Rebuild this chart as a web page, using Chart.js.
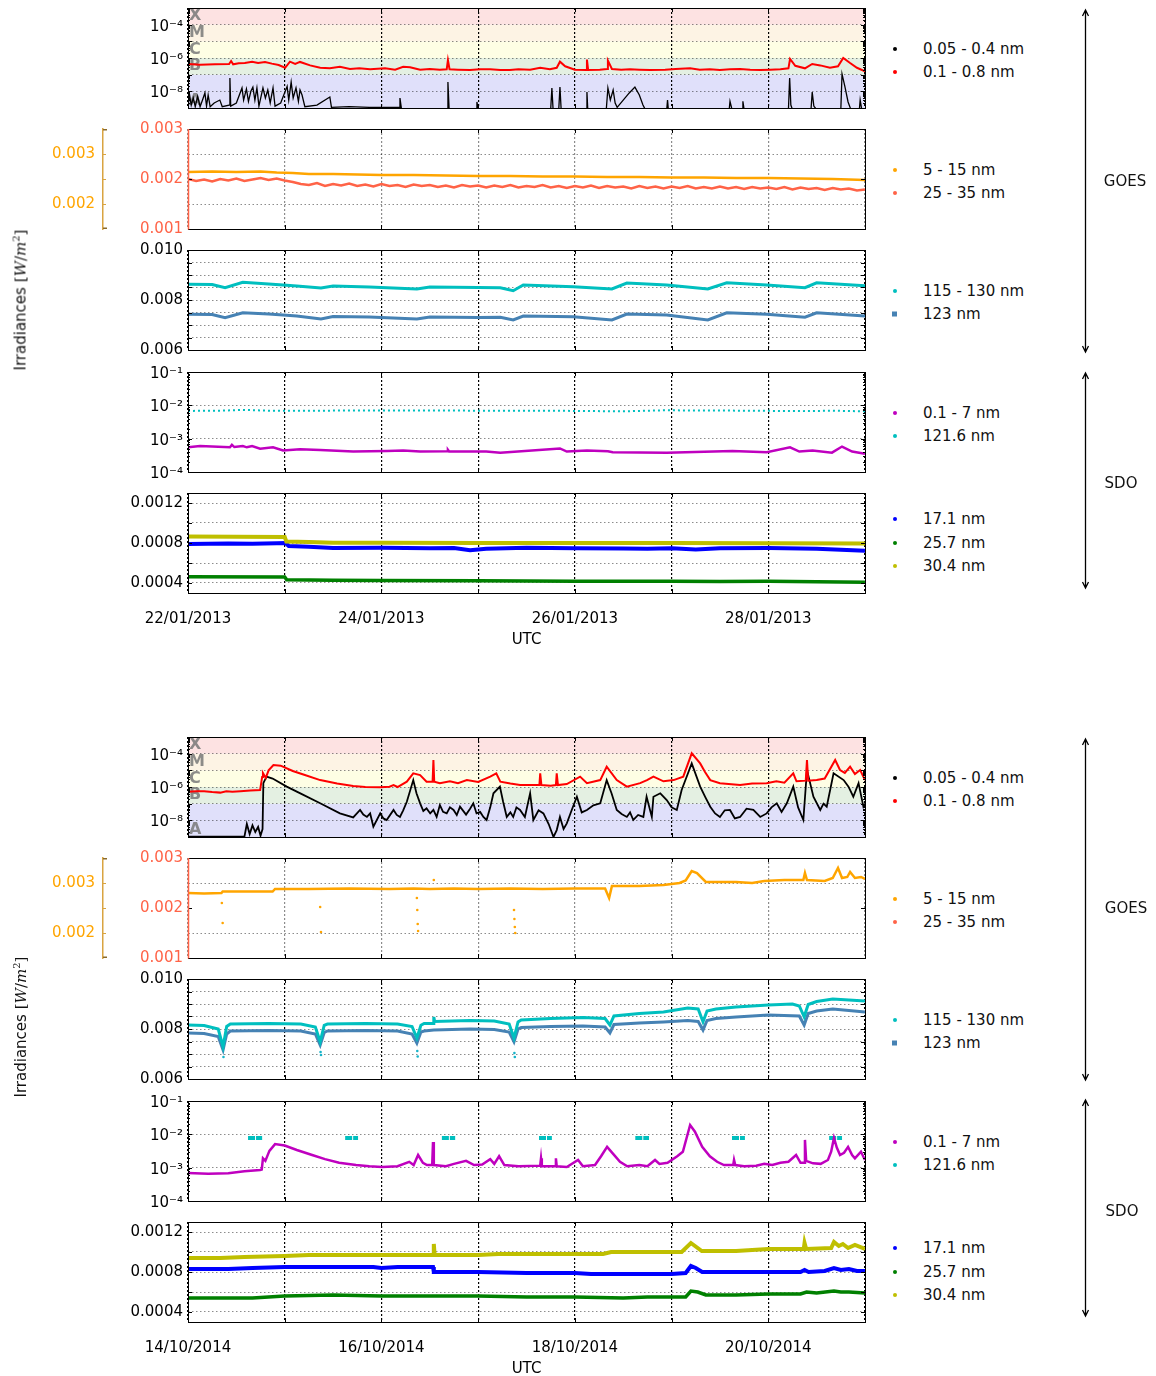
<!DOCTYPE html>
<html>
<head>
<meta charset="utf-8">
<script src="https://cdn.jsdelivr.net/npm/chart.js@4.4.1/dist/chart.umd.min.js"></script>
<style>
  body { margin: 0; background: #fff; font-family: 'DejaVu Sans', sans-serif; }
  #page { position: relative; width: 1156px; height: 1376px; overflow: hidden; }
  #page canvas { position: absolute; left: 0; }
  .leg { position: absolute; left: 923px; font-size: 15px; color: #111; white-space: nowrap; transform: translateY(-50%); }
  .mark { position: absolute; left: 893px; width: 4px; height: 4px; border-radius: 50%; transform: translateY(-50%); }
  .mark.sq { border-radius: 0; width: 5px; height: 5px; left: 892px; }
  .side { position: absolute; font-size: 15px; color: #111; transform: translate(-50%, -50%); }
  .ytitle { position: absolute; left: 20px; font-size: 15px; color: #111; white-space: nowrap; transform: translate(-50%, -50%) rotate(-90deg); }
  .ytitle .m { font-family: 'DejaVu Serif', serif; }
  .ytitle sup { font-size: 10px; }
</style>
</head>
<body>
<div id="page"></div>
<script>
Chart.defaults.font.family = "'DejaVu Sans', sans-serif";

// ---- x axis: hours since the first day, one gridline per day
const dayTicks = [0, 24, 48, 72, 96, 120, 144, 168];
const dates2013 = ['22/01/2013', '', '24/01/2013', '', '26/01/2013', '', '28/01/2013', ''];
const dates2014 = ['14/10/2014', '', '16/10/2014', '', '18/10/2014', '', '20/10/2014', ''];

// ---- y ticks
const xrsTicks = [1e-9, 1e-8, 1e-7, 1e-6, 1e-5, 1e-4, 1e-3];
const xrsLabelled = [1e-8, 1e-6, 1e-4];
const euvRedTicks = [0.001, 0.002, 0.003];
const euvOrangeTicks = [0.002, 0.003];
const lyaTicks = [0.006, 0.0065, 0.007, 0.0075, 0.008, 0.0085, 0.009, 0.0095, 0.010];
const lyaLabelled = [0.006, 0.008, 0.010];
const espTicks = [1e-4, 1e-3, 1e-2, 1e-1];
const aiaTicks = [0.0004, 0.0006, 0.0008, 0.0010, 0.0012];
const aiaLabelled = [0.0004, 0.0008, 0.0012];

// ---- flare classes
const flareLetters = ['A', 'B', 'C', 'M', 'X'];
const flareBands = [[1e-9, 1e-7], [1e-7, 1e-6], [1e-6, 1e-5], [1e-5, 1e-4], [1e-4, 1e-3]];
const flareLetterAt = [10 ** -8.55, 10 ** -6.5, 10 ** -5.5, 10 ** -4.5, 10 ** -3.5];
const flareColors = ['#e0e0fa', '#e4f0e2', '#fefee4', '#fdf3e4', '#fde2e2'];

// ---- legend names
const xrsNames = ['0.05 - 0.4 nm', '0.1 - 0.8 nm'];
const euvNames = ['5 - 15 nm', '25 - 35 nm'];
const lyaNames = ['115 - 130 nm', '123 nm'];
const espNames = ['0.1 - 7 nm', '121.6 nm'];
const aiaNames = ['17.1 nm', '25.7 nm', '30.4 nm'];

// ================= 22/01/2013 - 29/01/2013 =================  [hour, value]
const xrsLong2013 = [[0,4.4e-7],[3,4.0e-7],[6.7,4.2e-7],[10.2,4.4e-7],[10.7,6.6e-7],[11.2,4.2e-7],[12.6,4.8e-7],[14.1,5.0e-7],[15.9,6.0e-7],[17.4,5.0e-7],[19.1,5.8e-7],[20.8,4.6e-7],[22.5,3.8e-7],[24.1,2.6e-7],[25.3,6.0e-7],[26.6,4.4e-7],[27.8,5.8e-7],[30.3,3.6e-7],[32.8,2.6e-7],[35.2,2.4e-7],[37.7,3.0e-7],[40.2,2.2e-7],[42.5,2.4e-7],[45.2,2.1e-7],[48.9,2.4e-7],[51.4,2.0e-7],[53.4,3.0e-7],[55.1,2.8e-7],[57.6,2.0e-7],[60,2.2e-7],[62.5,2.0e-7],[64.2,2.1e-7],[64.5,7.5e-7],[64.9,2.1e-7],[67,2.0e-7],[70,1.9e-7],[72.5,2.1e-7],[75,2.1e-7],[77.5,1.9e-7],[79.9,1.9e-7],[82,2.1e-7],[84.9,2.0e-7],[87.4,2.6e-7],[89.8,2.1e-7],[91.5,2.6e-7],[92.3,6.0e-7],[93.6,3.2e-7],[96,2.0e-7],[98.8,1.9e-7],[99,8.0e-7],[99.3,1.9e-7],[102.2,2.0e-7],[104,2.2e-7],[104.2,7.0e-7],[105.2,2.2e-7],[107.5,2.0e-7],[109.7,2.1e-7],[112,2.0e-7],[114.7,1.9e-7],[118.4,2.0e-7],[121,2.2e-7],[124.6,2.4e-7],[127,2.0e-7],[129.5,2.1e-7],[132,1.9e-7],[134.5,2.1e-7],[137,2.2e-7],[139.5,2.0e-7],[142,1.9e-7],[144.5,2.0e-7],[147,2.1e-7],[149,2.4e-7],[149.4,8.7e-7],[150.7,3.4e-7],[153.1,2.4e-7],[154.9,4.4e-7],[156.9,3.6e-7],[159.3,2.6e-7],[161.3,3.2e-7],[162.6,1.0e-6],[164.3,5.0e-7],[166,2.6e-7],[168,1.6e-7]];
const xrsShort2013 = [[0,1.2e-9],[0.4,6e-9],[0.8,1.5e-9],[1.3,4e-9],[1.8,1.2e-9],[2.4,5e-9],[3,1.2e-9],[3.6,3e-9],[4.2,8e-9],[4.6,1.3e-9],[5,6e-9],[5.5,1.2e-9],[6.5,2e-9],[7.9,3e-9],[8.5,1.2e-9],[10.2,1.5e-9],[10.4,6.3e-8],[10.6,1.3e-9],[12,2e-9],[13.4,1.6e-8],[13.8,3e-9],[14.5,1.4e-8],[15,2.5e-9],[15.6,1e-8],[16.1,1.8e-8],[16.6,3e-9],[17.1,1.6e-8],[17.6,1.3e-9],[18.6,1.6e-8],[19.2,4e-9],[19.8,1.2e-8],[20.4,2e-9],[21.1,1.6e-8],[21.6,1.3e-9],[23,2e-9],[24.6,2e-8],[25,3e-9],[25.6,3.6e-8],[26.1,4e-9],[26.8,1.6e-8],[27.4,2.5e-9],[27.8,1.2e-8],[28.3,6e-9],[29,1.2e-9],[32,1.5e-9],[35.2,4.6e-9],[35.6,1.1e-9],[40,1.2e-9],[45,1.1e-9],[52.4,1.1e-9],[52.6,4e-9],[53,8e-10],[64.3,8e-10],[64.5,3.6e-8],[64.8,8e-10],[71.5,8e-10],[71.7,2.3e-9],[72,8e-10],[90,8e-10],[90.3,1.6e-8],[90.6,8e-10],[92,8e-10],[92.3,1.8e-8],[92.6,8e-10],[98.8,8e-10],[99,9e-9],[99.2,8e-10],[103.8,8e-10],[104.2,1.6e-8],[104.8,3e-9],[105.5,1.2e-8],[106,2e-9],[106.5,1.1e-9],[108,3e-9],[109.5,8e-9],[110.9,1.8e-8],[112,6e-9],[112.9,1.5e-9],[113.5,8e-10],[118.8,8e-10],[119,3e-9],[119.2,8e-10],[134.3,8e-10],[134.5,2.5e-9],[135,8e-10],[137.5,8e-10],[137.7,2.5e-9],[138,8e-10],[149,8e-10],[149.3,6.3e-8],[149.6,1.5e-9],[150,8e-10],[154.6,8e-10],[154.9,9e-9],[155.3,1.3e-9],[156,8e-10],[162,8e-10],[162.3,1.1e-7],[163,2e-8],[163.8,2.3e-9],[164.5,8e-10],[166.6,8e-10],[166.8,3e-9],[167.2,8e-10],[168,8e-10]];
const euv515_2013 = [[0,0.00264],[6,0.00265],[12,0.00264],[18,0.00265],[22,0.00263],[26,0.00262],[30,0.0026],[36,0.0026],[42,0.00259],[48,0.00258],[56,0.00258],[64,0.00257],[72,0.00256],[80,0.00256],[88,0.00255],[96,0.00255],[104,0.00254],[112,0.00254],[120,0.00253],[128,0.00253],[136,0.00252],[144,0.00252],[152,0.00251],[160,0.0025],[168,0.00248]];
// 25-35 nm, one value every 2 hours
const euv2535_2013 = [0.00200,0.00196,0.00199,0.00195,0.00200,0.00197,0.00201,0.00196,0.00199,0.00202,0.00198,0.00201,0.00197,0.00194,0.00190,0.00188,0.00192,0.00186,0.00190,0.00187,0.00191,0.00186,0.00189,0.00185,0.00190,0.00186,0.00188,0.00184,0.00189,0.00186,0.00188,0.00184,0.00187,0.00183,0.00188,0.00185,0.00187,0.00183,0.00187,0.00184,0.00188,0.00183,0.00186,0.00184,0.00188,0.00183,0.00186,0.00182,0.00186,0.00183,0.00187,0.00182,0.00186,0.00183,0.00185,0.00181,0.00186,0.00182,0.00185,0.00181,0.00185,0.00182,0.00186,0.00181,0.00184,0.00181,0.00185,0.00181,0.00184,0.00180,0.00184,0.00181,0.00183,0.00180,0.00184,0.00179,0.00183,0.00180,0.00182,0.00178,0.00182,0.00179,0.00181,0.00177,0.00179];
const lya2013 = [[0,0.00863],[6,0.00862],[9.2,0.00849],[13.6,0.00871],[20,0.00864],[23.6,0.0086],[27,0.00856],[33,0.00848],[36,0.00856],[45,0.00852],[56.8,0.00844],[60,0.00852],[72,0.0085],[77.5,0.00849],[80.7,0.00837],[83.2,0.0086],[95.6,0.00853],[105.2,0.00844],[108.9,0.00868],[118.8,0.0086],[129,0.00844],[133.7,0.00869],[143.6,0.0086],[153.1,0.00849],[156,0.00869],[168,0.00857]];
const lya123_2013 = [[0,0.00743],[6,0.00742],[9.2,0.00729],[13.6,0.00749],[20,0.00744],[23.6,0.0074],[27,0.00736],[33,0.00724],[36,0.00734],[45,0.00732],[56.8,0.00724],[60,0.00732],[72,0.0073],[77.5,0.00731],[80.7,0.0072],[83.2,0.00736],[95.6,0.00733],[105.2,0.0072],[108.9,0.00744],[118.8,0.0074],[129,0.0072],[133.7,0.00749],[143.6,0.00743],[153.1,0.00731],[156,0.00749],[168,0.00736]];
const esp2013 = [[0,5.5e-4],[3,6.0e-4],[10.4,5.5e-4],[10.9,6.5e-4],[11.5,5.6e-4],[13.6,6.0e-4],[14.6,5.5e-4],[15.9,6.0e-4],[17.9,5.0e-4],[21.1,5.5e-4],[23.6,4.4e-4],[27.8,4.8e-4],[32.8,4.6e-4],[41,4.1e-4],[49.4,4.3e-4],[53.4,4.4e-4],[57.6,4.1e-4],[64.3,4.2e-4],[64.5,4.6e-4],[64.8,4.1e-4],[74,4.1e-4],[77.5,3.8e-4],[92.3,5.1e-4],[94,4.1e-4],[99,4.4e-4],[104.2,4.2e-4],[105.4,3.9e-4],[118.8,3.8e-4],[135.1,4.3e-4],[143.6,3.9e-4],[149.4,5.5e-4],[151.7,4.1e-4],[155,4.4e-4],[159.8,3.8e-4],[162.3,5.8e-4],[164.8,4.1e-4],[168,3.5e-4]];
const lyaSdo2013 = [[0,6.8e-3],[8,6.9e-3],[13.6,7.3e-3],[20,6.9e-3],[30,6.9e-3],[45,7.0e-3],[60,7.0e-3],[75,6.9e-3],[90,6.9e-3],[108,6.6e-3],[118,7.1e-3],[128,7.0e-3],[140,6.9e-3],[152.5,6.7e-3],[160,6.9e-3],[168,6.6e-3]];
const aia171_2013 = [[0,0.00079],[10,0.000795],[16,0.000792],[22,0.000797],[24.2,0.0008],[25,0.00077],[30,0.000762],[36,0.00075],[48,0.000752],[60,0.000748],[66,0.00075],[70,0.000728],[74,0.000742],[84,0.000752],[96,0.000748],[108,0.000745],[114,0.000742],[120,0.000748],[126,0.000735],[132,0.000748],[144,0.00075],[156,0.000742],[168,0.000722]];
const aia257_2013 = [[0,0.000463],[24,0.00046],[24.5,0.000432],[36,0.000428],[48,0.000425],[72,0.000422],[96,0.000418],[120,0.000418],[132,0.000415],[144,0.000417],[168,0.000408]];
const aia304_2013 = [[0,0.000865],[12,0.000862],[24,0.00086],[24.4,0.000815],[30,0.00081],[36,0.000803],[48,0.000802],[72,0.0008],[96,0.0008],[120,0.000801],[144,0.000798],[168,0.000795]];

// ================= 14/10/2014 - 21/10/2014 =================
const xrsLong2014 = [[0,5.2e-7],[2,5.6e-7],[4,5.6e-7],[6,5.0e-7],[8,4.6e-7],[9.5,5.5e-7],[11,5.2e-7],[13,5.6e-7],[15.5,6.2e-7],[17.9,6.6e-7],[18.4,4e-6],[18.6,6.9e-6],[19.3,3.5e-6],[20,1.0e-5],[21.2,2.1e-5],[23,1.9e-5],[26,9.1e-6],[29,5.2e-6],[32.8,2.6e-6],[37,1.6e-6],[41,1.15e-6],[44,1.0e-6],[47.7,9.5e-7],[50,1.05e-6],[51,1.3e-6],[52,1.0e-6],[54.3,2.1e-6],[55.9,6.6e-6],[57.6,5.2e-6],[59.2,2.1e-6],[60.7,2.1e-6],[60.9,4.2e-5],[61.1,2.1e-6],[62.5,1.7e-6],[65,2.2e-6],[67,1.7e-6],[69.2,2.6e-6],[72,2.0e-6],[75,4.2e-6],[76.5,6.6e-6],[77.5,2.1e-6],[80,1.6e-6],[82.4,1.3e-6],[84.9,1.3e-6],[87.2,1.3e-6],[87.4,6.6e-6],[87.7,1.3e-6],[90,1.2e-6],[91.3,1.3e-6],[91.5,6.6e-6],[91.8,1.3e-6],[94,1.5e-6],[97.3,4.2e-6],[99,1.7e-6],[102.3,2.6e-6],[103.9,1.65e-5],[106.4,2.6e-6],[108.9,1.05e-6],[112.2,1.7e-6],[113.9,2.6e-6],[115.5,4.2e-6],[118,2.2e-6],[120.5,2.6e-6],[122.9,4.2e-6],[125,1.05e-4],[127.1,2.6e-5],[128.3,8e-6],[129.6,2.6e-6],[132,1.7e-6],[137,1.3e-6],[140,1.6e-6],[143.6,1.7e-6],[146,2.2e-6],[148,1.8e-6],[150.2,6.6e-6],[151,2.2e-6],[153.3,2.4e-6],[153.6,4.2e-5],[153.9,2.4e-6],[156,2.6e-6],[158,3.2e-6],[160.6,4.2e-5],[161.8,1.05e-5],[163,7e-6],[164.3,1.65e-5],[165.5,6e-6],[166.8,1.05e-5],[168,2.6e-6]];
const xrsShort2014 = [[0,1.05e-9],[14,1.05e-9],[14.6,6e-9],[15.3,1.5e-9],[16,5e-9],[16.7,2e-9],[17.4,4e-9],[18,1.2e-9],[18.5,3e-9],[18.7,1.7e-6],[19.5,4.2e-6],[21,3.2e-6],[24.5,1.05e-6],[28,4e-7],[32.8,1.05e-7],[37.7,2.6e-8],[41,1.5e-8],[42.7,4.2e-8],[43.5,2.2e-8],[44.4,1.6e-8],[45.2,2.6e-8],[46,4.2e-9],[47.7,2.6e-8],[48.5,1.3e-8],[49.3,1.05e-8],[51,4.2e-8],[51.8,2.1e-8],[52.6,1.6e-8],[53.4,4e-8],[54.3,1.3e-7],[55.9,2.6e-6],[56.7,4.2e-7],[57.6,1.05e-7],[58.4,3.6e-8],[59.2,5.2e-8],[60.1,2.6e-8],[60.9,4.2e-8],[61.7,1.6e-8],[62.5,8.3e-8],[63.3,3.2e-8],[64.2,2.6e-8],[65,6e-8],[65.9,4.2e-8],[66.7,2.1e-8],[67.5,6.6e-8],[69,2.2e-8],[70,5e-8],[70.8,1.05e-7],[71.6,2.6e-8],[72.5,3.2e-8],[73.3,1.6e-8],[74.1,1.05e-8],[75,6e-8],[75.8,4.2e-7],[77.4,1.05e-6],[78.2,1.3e-7],[79.1,1.6e-8],[80,3e-8],[80.7,1.6e-8],[81.5,6e-8],[82.4,4.2e-8],[83.6,1.6e-8],[84.9,4.2e-7],[85.7,1.05e-8],[87,4e-8],[88.2,2.6e-8],[89.5,6e-9],[90.7,1e-9],[91.5,2.6e-9],[92.3,1.6e-8],[93.2,3e-9],[94,6.6e-9],[95.2,4e-8],[96.5,2.6e-7],[97.7,3e-8],[99,4.2e-8],[100.6,8e-8],[102.3,1.05e-7],[103.9,2.6e-6],[105.1,4.2e-7],[106.4,4.2e-8],[107.6,2.4e-8],[108.9,1.6e-8],[109.7,3e-8],[110.5,1.05e-8],[111.7,2.1e-8],[113,1.6e-8],[113.8,2.6e-7],[115.1,1.6e-8],[115.5,2.6e-7],[117.2,4.2e-7],[118.8,1.65e-7],[120,6e-8],[121.3,4.2e-8],[122.5,6.6e-7],[125,2.6e-5],[127.1,1.05e-6],[128.4,2.4e-7],[129.6,6.6e-8],[130.8,2.6e-8],[132,1.6e-8],[133.2,4e-8],[134.5,4.2e-8],[135.7,1.3e-8],[137,1.6e-8],[138.6,5e-8],[140.3,4.2e-8],[142,1.6e-8],[143.6,2.6e-8],[144.8,6e-8],[146.1,1.05e-7],[147.3,3.2e-8],[148.6,1.05e-7],[150.2,1.05e-6],[151.4,6e-8],[152.7,1.05e-8],[153.6,1.05e-5],[155.2,2.6e-7],[156.9,4.2e-8],[157.7,1e-7],[158.5,6.6e-8],[160.2,6.6e-6],[162.7,2.6e-6],[163.9,1.05e-6],[165.1,2.6e-7],[166.4,1.7e-6],[167.6,6.6e-8],[168,1e-7]];
const euv515_2014 = [[0,0.0028],[4,0.00279],[8.3,0.0028],[8.6,0.00283],[14,0.00283],[21,0.00283],[21.6,0.00288],[30,0.00288],[40,0.00289],[50,0.00288],[56,0.00289],[60,0.00288],[66,0.00289],[72,0.00288],[80,0.00289],[88,0.00288],[96,0.00289],[103.5,0.00289],[104.5,0.0027],[105.2,0.00294],[112,0.00294],[118,0.00296],[122,0.003],[123.5,0.00305],[125,0.00324],[126.3,0.0032],[128.5,0.00302],[136,0.00302],[140,0.003],[143,0.00304],[148,0.00306],[152.7,0.00306],[153.1,0.0032],[153.6,0.00306],[158,0.00304],[160,0.0031],[161.3,0.0033],[162.3,0.0031],[163.6,0.00312],[164.3,0.00322],[165.5,0.0031],[167,0.00312],[168,0.00308]];
const euv515Out2014 = [[8.4,0.0026],[8.6,0.0022],[32.8,0.00252],[33,0.00202],[56.8,0.0027],[56.9,0.00246],[57,0.00218],[57.1,0.00204],[61,0.00306],[80.9,0.00246],[81,0.00228],[81.1,0.00212],[81.2,0.002]];
const euv2535_2014 = [];
const lya2014 = [[0,0.00816],[4,0.00814],[7.5,0.008],[8.7,0.00729],[9.6,0.0081],[10.5,0.0082],[20,0.00822],[28,0.0082],[31.6,0.00808],[32.8,0.00749],[33.8,0.00815],[34.6,0.0082],[44,0.00822],[52,0.0082],[55.6,0.0081],[56.8,0.00764],[57.8,0.00815],[58.6,0.00822],[60.8,0.00822],[61,0.00848],[61.2,0.0083],[70,0.00834],[76,0.00832],[79.7,0.0082],[80.9,0.00764],[81.9,0.00828],[82.7,0.00836],[90,0.00842],[98,0.00846],[103.5,0.00842],[104.7,0.00816],[105.7,0.00852],[112,0.00862],[118,0.00868],[124,0.00884],[126.6,0.0088],[127.8,0.00829],[128.8,0.00872],[131,0.0088],[136,0.00888],[144,0.00896],[150,0.009],[151.7,0.00892],[152.9,0.00849],[153.9,0.00898],[156,0.0091],[160,0.0092],[164,0.00916],[168,0.00912]];
const lya123_2014 = [[0,0.00784],[4,0.00782],[7.5,0.0077],[8.7,0.00716],[9.6,0.0078],[10.5,0.00792],[20,0.00794],[28,0.00792],[31.6,0.0078],[32.8,0.00736],[33.8,0.00786],[34.6,0.00792],[44,0.00794],[52,0.00792],[55.6,0.0078],[56.8,0.00744],[57.8,0.00788],[58.6,0.00792],[61,0.00796],[70,0.008],[76,0.00798],[79.7,0.00788],[80.9,0.00749],[81.9,0.008],[82.7,0.00806],[90,0.0081],[98,0.00812],[103.5,0.00808],[104.7,0.00784],[105.7,0.00818],[112,0.00824],[118,0.00828],[124,0.00834],[126.6,0.0083],[127.8,0.00796],[128.8,0.00834],[131,0.00842],[136,0.00848],[144,0.00856],[151.7,0.00852],[152.9,0.00816],[153.9,0.00862],[156,0.00872],[160,0.0088],[164,0.00874],[168,0.00868]];
const lyaOut2014 = [[8.8,0.00688],[32.9,0.00708],[33,0.00696],[56.9,0.00712],[57,0.0069],[81,0.00704],[81.1,0.00688]];
const esp2014 = [[0,6.9e-4],[5,6.6e-4],[10,6.8e-4],[14,7.8e-4],[17.9,8.5e-4],[18.3,8.8e-4],[18.6,1.9e-3],[19.2,1.6e-3],[20.2,3.2e-3],[21.6,5.1e-3],[24,4.6e-3],[27,3.4e-3],[30.8,2.4e-3],[34,1.8e-3],[37.5,1.4e-3],[41.7,1.2e-3],[45,1.1e-3],[48.2,1.05e-3],[52,1.1e-3],[54.9,1.5e-3],[56,1.2e-3],[57.1,2.4e-3],[58.3,1.4e-3],[59.3,1.2e-3],[60.6,1.2e-3],[60.8,5.9e-3],[61,1.2e-3],[64,1.1e-3],[66,1.3e-3],[69,1.6e-3],[71,1.2e-3],[73,1.25e-3],[75,1.8e-3],[76,1.3e-3],[77.2,2.2e-3],[78.5,1.2e-3],[82,1.1e-3],[87.4,1.15e-3],[87.6,1.9e-3],[87.8,1.1e-3],[91.1,1.1e-3],[91.3,1.9e-3],[91.5,1.1e-3],[94,1.05e-3],[96.8,1.7e-3],[98,1.1e-3],[101,1.2e-3],[102.5,2.2e-3],[104,4.2e-3],[105.5,2.6e-3],[107.2,1.5e-3],[109,1.1e-3],[112,1.2e-3],[114,1.1e-3],[115.9,1.7e-3],[117,1.3e-3],[119,1.4e-3],[121.4,2.2e-3],[122.8,3e-3],[124.6,1.9e-2],[125.8,1.2e-2],[127.6,4.2e-3],[129.5,2.2e-3],[131.3,1.5e-3],[133,1.2e-3],[135.3,1.2e-3],[135.5,1.7e-3],[135.8,1.2e-3],[138,1.1e-3],[141,1.15e-3],[143,1.3e-3],[145,1.2e-3],[147,1.4e-3],[149,1.5e-3],[150.9,2.4e-3],[152,1.4e-3],[152.9,1.4e-3],[153.1,6.8e-3],[153.4,1.6e-3],[155.1,1.35e-3],[157,1.3e-3],[158.8,1.7e-3],[159.6,3e-3],[160.3,7.8e-3],[161,4e-3],[161.8,2.4e-3],[162.8,2.8e-3],[163.8,4.2e-3],[164.8,2.4e-3],[165.5,1.9e-3],[167,3e-3],[168,1.7e-3]];
const lyaSdo2014 = [[14.9,7.8e-3],[18.4,7.8e-3],[18.5,null],[39,7.8e-3],[42.2,7.8e-3],[42.3,null],[63,7.8e-3],[66.3,7.8e-3],[66.4,null],[87.1,7.8e-3],[90.3,7.8e-3],[90.4,null],[111,7.8e-3],[114.4,7.8e-3],[114.5,null],[135,7.8e-3],[138.2,7.8e-3],[138.3,null],[159.1,7.8e-3],[162.3,7.8e-3]];
const aia171_2014 = [[0,0.00083],[10,0.00083],[16,0.00084],[24,0.00085],[36,0.00085],[46,0.00085],[48,0.00084],[52,0.00085],[60.8,0.00085],[61,0.0008],[72,0.0008],[84,0.00079],[96,0.00079],[100,0.00078],[112,0.00078],[120,0.00078],[123.5,0.00079],[124.8,0.00086],[126,0.00084],[127.6,0.0008],[136,0.0008],[148,0.0008],[152,0.0008],[153,0.00082],[154,0.0008],[158,0.00081],[160.3,0.00084],[162,0.00082],[164,0.00083],[166,0.00081],[168,0.00081]];
const aia257_2014 = [[0,0.00054],[16,0.00054],[24,0.00056],[36,0.00057],[48,0.00056],[60,0.00056],[72,0.00056],[84,0.00055],[96,0.00055],[108,0.00054],[114,0.00055],[120,0.00055],[123.5,0.00055],[124.8,0.00061],[126.5,0.0006],[128.5,0.00057],[136,0.00057],[144,0.00058],[152,0.00058],[153.5,0.0006],[156,0.00059],[160.3,0.00061],[162,0.0006],[164,0.0006],[168,0.00059]];
const aia304_2014 = [[0,0.00094],[8,0.00094],[14,0.00095],[24,0.00096],[30,0.00097],[48,0.00097],[60.8,0.00097],[61,0.00108],[61.2,0.00097],[72,0.00097],[77,0.00098],[96,0.00098],[103,0.00098],[105,0.001],[118,0.001],[122.5,0.001],[124.8,0.00109],[127.5,0.00101],[136,0.00101],[140,0.00102],[144,0.00103],[152.8,0.00103],[153,0.00109],[153.4,0.00103],[159.6,0.00104],[160.3,0.0011],[161.5,0.00106],[162.5,0.00108],[163.8,0.00104],[165.5,0.00107],[168,0.00103]];

// ---- helpers
const page = document.getElementById('page');
const PAD = 18; // room for the tick labels above/below each plot box
const RIGHT = 20; // canvas is 885 wide, plot box ends at x = 865
const near = (arr, v) => arr.some(a => Math.abs(a - v) <= Math.abs(a) * 1e-6);
const supDigits = { '-': '\u207b', '0': '\u2070', '1': '\u00b9', '2': '\u00b2', '3': '\u00b3', '4': '\u2074', '5': '\u2075', '6': '\u2076', '7': '\u2077', '8': '\u2078', '9': '\u2079' };
const pow10 = v => '10' + String(Math.round(Math.log10(v))).split('').map(c => supDigits[c]).join('');
const every2h = vals => vals.map((v, i) => [i * 2, v]);

function line(data, color, width, more) {
  return Object.assign({ data, borderColor: color, backgroundColor: color, borderWidth: width,
    pointRadius: 0, tension: 0, clip: 0, spanGaps: false }, more || {});
}
function dots(data, color, more) {
  return Object.assign({ data, showLine: false, pointRadius: 1.3, pointBorderWidth: 0,
    pointBackgroundColor: color, borderColor: color, clip: 0 }, more || {});
}

// bands, letters, frame and inward ticks
const frame = {
  id: 'frame',
  beforeDraw(chart, args, o) {
    if (!o.bands) return;
    const { ctx, chartArea: a, scales: { y } } = chart;
    ctx.save();
    flareBands.forEach((b, i) => {
      const top = y.getPixelForValue(b[1]), bot = y.getPixelForValue(b[0]);
      ctx.fillStyle = flareColors[i];
      ctx.fillRect(a.left, top, a.right - a.left, bot - top);
    });
    ctx.restore();
  },
  beforeDatasetsDraw(chart, args, o) {
    if (!o.bands) return;
    const { ctx, chartArea: a, scales: { y } } = chart;
    ctx.save();
    ctx.font = 'bold 16px "DejaVu Sans"';
    ctx.fillStyle = 'rgba(120,120,120,0.85)';
    ctx.textBaseline = 'middle';
    flareLetters.forEach((t, i) => ctx.fillText(t, a.left + 1, y.getPixelForValue(flareLetterAt[i])));
    ctx.restore();
  },
  afterDraw(chart, args, o) {
    const { ctx, chartArea: a, scales } = chart;
    const seg = (x1, y1, x2, y2) => { ctx.beginPath(); ctx.moveTo(x1, y1); ctx.lineTo(x2, y2); ctx.stroke(); };
    ctx.save();
    ctx.strokeStyle = '#000';
    ctx.lineWidth = 1;
    const y = scales.y;
    y.ticks.forEach(t => {
      const p = Math.round(y.getPixelForValue(t.value)) + 0.5;
      seg(a.left, p, a.left + 4, p); seg(a.right - 4, p, a.right, p);
    });
    if (y.type === 'logarithmic') {
      for (let e = Math.round(Math.log10(y.min)); e < Math.round(Math.log10(y.max)); e++) {
        for (let k = 2; k < 10; k++) {
          const p = Math.round(y.getPixelForValue(k * 10 ** e)) + 0.5;
          seg(a.left, p, a.left + 2, p); seg(a.right - 2, p, a.right, p);
        }
      }
    }
    const x = scales.x;
    x.ticks.forEach(t => {
      const p = Math.round(x.getPixelForValue(t.value)) + 0.5;
      seg(p, a.top, p, a.top + 4); seg(p, a.bottom - 4, p, a.bottom);
    });
    ctx.strokeRect(Math.round(a.left) + 0.5, Math.round(a.top) + 0.5, Math.round(a.right - a.left), Math.round(a.bottom - a.top));
    if (o.leftColor) {
      ctx.strokeStyle = o.leftColor;
      ctx.lineWidth = 1.5;
      seg(a.left + 0.5, a.top, a.left + 0.5, a.bottom + 0.5);
    }
    if (scales.yO) {
      const s = scales.yO, bx = s.right;
      ctx.strokeStyle = '#8a6a2a';
      ctx.lineWidth = 1.5;
      seg(bx, s.top + 0.75, bx + 4, s.top + 0.75);
      seg(bx, s.bottom - 0.75, bx + 4, s.bottom - 0.75);
      ctx.strokeStyle = '#d9a441';
      ctx.lineWidth = 1;
      [0.002, 0.0025, 0.003].forEach(v => {
        const p = Math.round(s.getPixelForValue(v)) + 0.5;
        seg(bx, p, bx + 3, p);
      });
    }
    ctx.restore();
  }
};

function yAxis(a) {
  return {
    type: a.log ? 'logarithmic' : 'linear',
    position: 'left', weight: a.weight || 0,
    min: a.min, max: a.max,
    afterBuildTicks: s => { s.ticks = a.ticks.map(v => ({ value: v })); },
    afterFit: s => { s.width = a.width; },
    grid: { drawOnChartArea: a.grid !== false, drawTicks: false, color: 'rgba(0,0,0,0.45)', lineWidth: 1 },
    border: { display: !!a.border, color: a.border || '#000', width: 1.5, dash: [1.5, 2.5] },
    ticks: { autoSkip: false, padding: a.pad || 5, labelOffset: a.log ? 2 : 0, color: a.color || '#000', font: { size: 15 }, callback: v => a.label(v) }
  };
}

function panel(top, opt) {
  const last = !!opt.dates;
  const cv = document.createElement('canvas');
  cv.width = 865 + RIGHT;
  cv.height = PAD + 100 + (last ? 58 : PAD);
  cv.style.top = (top - PAD) + 'px';
  page.appendChild(cv);
  const scales = {
    x: {
      type: 'linear', min: 0, max: 168,
      afterBuildTicks: s => { s.ticks = dayTicks.map(v => ({ value: v })); },
      afterFit: s => { s.height = last ? 58 : 0; },
      grid: { color: opt.xGrid || '#000', lineWidth: 1.2, drawTicks: false },
      border: { display: false, dash: [2, 2] },
      ticks: { display: last, autoSkip: false, maxRotation: 0, padding: 17, color: '#000', font: { size: 15 },
        callback: (v, i) => last ? opt.dates[i] : '' },
      title: { display: last, text: 'UTC', color: '#000', font: { size: 15 }, padding: { top: 0, bottom: 2 } }
    },
    y: yAxis(opt.y)
  };
  if (opt.y2) scales.yO = yAxis(opt.y2);
  new Chart(cv, {
    type: 'line',
    data: { datasets: opt.datasets },
    options: {
      responsive: false, animation: false, events: [],
      layout: { padding: { left: 0, right: RIGHT, top: PAD, bottom: last ? 0 : PAD } },
      plugins: { legend: { display: false }, tooltip: { enabled: false }, frame: opt.frame || {} },
      scales
    },
    plugins: [frame]
  });
}

function legend(top, names, colors, squares) {
  const offs = names.length === 3 ? [26, 50, 73] : [41, 64];
  names.forEach((n, i) => {
    const m = document.createElement('div');
    m.className = 'mark' + (squares && squares[i] ? ' sq' : '');
    m.style.top = (top + offs[i]) + 'px';
    m.style.background = colors[i];
    page.appendChild(m);
    const t = document.createElement('div');
    t.className = 'leg';
    t.style.top = (top + offs[i]) + 'px';
    t.textContent = n;
    page.appendChild(t);
  });
}

function figure(top, d) {
  const tops = [top, top + 121, top + 242, top + 364, top + 485];
  panel(tops[0], {
    y: { log: true, min: 1e-9, max: 1e-3, ticks: xrsTicks, width: 188, label: v => near(xrsLabelled, v) ? pow10(v) : '' },
    frame: { bands: true },
    datasets: [line(d.xrsLong, '#ff0000', 2), line(d.xrsShort, '#000000', d.xrsShortWidth)]
  });
  panel(tops[1], {
    xGrid: 'rgba(0,0,0,0.45)',
    y: { min: 0.001, max: 0.003, ticks: euvRedTicks, width: 85, grid: false, color: '#ff6347', label: v => v.toFixed(3) },
    y2: { min: 0.0015, max: 0.0035, ticks: euvOrangeTicks, width: 103, weight: 1, pad: 8, border: '#d9a441', color: '#ffa500', label: v => v.toFixed(3) },
    frame: { leftColor: '#ff6347' },
    datasets: [line(d.euv515, '#ffa500', 2.5, { yAxisID: 'yO' }), dots(d.euv515Out, '#ffa500', { yAxisID: 'yO' }), line(d.euv2535, '#ff6347', 2.5)]
  });
  panel(tops[2], {
    y: { min: 0.006, max: 0.010, ticks: lyaTicks, width: 188, label: v => near(lyaLabelled, v) ? v.toFixed(3) : '' },
    datasets: [line(d.lya, '#00bfbf', 3), line(d.lya123, '#4682b4', 3), dots(d.lyaOut, '#17b3c9')]
  });
  panel(tops[3], {
    y: { log: true, min: 1e-4, max: 1e-1, ticks: espTicks, width: 188, label: v => pow10(v) },
    datasets: [line(d.esp, '#bf00bf', 2.5), line(d.lyaSdo, '#00bfbf', d.lyaSdoWidth, { borderDash: d.lyaSdoDash })]
  });
  panel(tops[4], {
    dates: d.dates,
    y: { min: 0.0003, max: 0.0013, ticks: aiaTicks, width: 188, label: v => near(aiaLabelled, v) ? v.toFixed(4) : '' },
    datasets: [line(d.a304, '#bfbf00', 4), line(d.a171, '#0000ff', 4), line(d.a257, '#008000', 3.5)]
  });
  legend(tops[0], xrsNames, ['#000000', '#ff0000']);
  legend(tops[1], euvNames, ['#ffa500', '#ff6347']);
  legend(tops[2], lyaNames, ['#00bfbf', '#4682b4'], [false, true]);
  legend(tops[3], espNames, ['#bf00bf', '#00bfbf']);
  legend(tops[4], aiaNames, ['#0000ff', '#008000', '#bfbf00']);
}

figure(8, {
  dates: dates2013, xrsLong: xrsLong2013, xrsShort: xrsShort2013, xrsShortWidth: 1.3,
  euv515: euv515_2013, euv515Out: [], euv2535: every2h(euv2535_2013),
  lya: lya2013, lya123: lya123_2013, lyaOut: [],
  esp: esp2013, lyaSdo: lyaSdo2013, lyaSdoWidth: 2, lyaSdoDash: [2, 3],
  a171: aia171_2013, a257: aia257_2013, a304: aia304_2013
});
figure(737, {
  dates: dates2014, xrsLong: xrsLong2014, xrsShort: xrsShort2014, xrsShortWidth: 1.8,
  euv515: euv515_2014, euv515Out: euv515Out2014, euv2535: euv2535_2014,
  lya: lya2014, lya123: lya123_2014, lyaOut: lyaOut2014,
  esp: esp2014, lyaSdo: lyaSdo2014, lyaSdoWidth: 4, lyaSdoDash: [7, 1],
  a171: aia171_2014, a257: aia257_2014, a304: aia304_2014
});

// ---- y titles, instrument arrows and labels
function addText(cls, html, x, y) {
  const el = document.createElement('div');
  el.className = cls;
  el.innerHTML = html;
  if (x !== null) el.style.left = x + 'px';
  el.style.top = y + 'px';
  page.appendChild(el);
}
const yTitle = 'Irradiances <span class="m">[<i>W</i>/<i>m</i><sup>2</sup>]</span>';
addText('ytitle', yTitle, null, 300);
addText('ytitle', yTitle, null, 1027);

const arrows = [[10, 352], [373, 588], [739, 1080], [1100, 1316]];
const ns = 'http://www.w3.org/2000/svg';
const svg = document.createElementNS(ns, 'svg');
svg.setAttribute('width', 1156);
svg.setAttribute('height', 1376);
svg.style.position = 'absolute';
svg.style.left = '0';
svg.style.top = '0';
arrows.forEach(([y1, y2]) => {
  const p = document.createElementNS(ns, 'path');
  const x = 1085.5;
  p.setAttribute('d', `M${x} ${y1} L${x} ${y2} M${x - 3} ${y1 + 6} L${x} ${y1} L${x + 3} ${y1 + 6} M${x - 3} ${y2 - 6} L${x} ${y2} L${x + 3} ${y2 - 6}`);
  p.setAttribute('stroke', '#000');
  p.setAttribute('stroke-width', '1.3');
  p.setAttribute('fill', 'none');
  svg.appendChild(p);
});
page.appendChild(svg);
addText('side', 'GOES', 1125, 181);
addText('side', 'SDO', 1121, 483);
addText('side', 'GOES', 1126, 908);
addText('side', 'SDO', 1122, 1211);
</script>
</body>
</html>
